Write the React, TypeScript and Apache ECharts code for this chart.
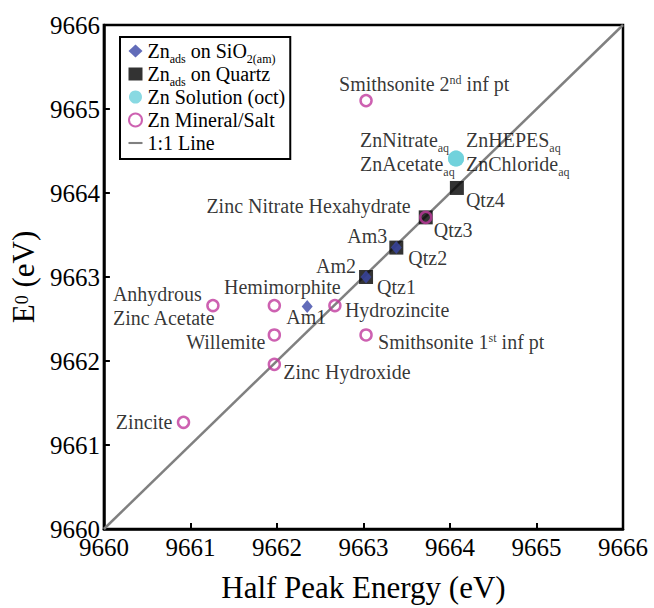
import React, { useEffect, useRef } from "react";
import * as echarts from "echarts";

const FONT = "Liberation Serif";

// Axis range / ticks
const axisMin = 9660;
const axisMax = 9666;
const tickStep = 1;

// Zn adsorbed on SiO2(am)
const amNames = ["Am1", "Am2", "Am3"];
const amX = [9662.35, 9663.03, 9663.38];
const amY = [9662.65, 9663.0, 9663.35];

// Zn adsorbed on Quartz
const qtzNames = ["Qtz1", "Qtz2", "Qtz3", "Qtz4"];
const qtzX = [9663.03, 9663.38, 9663.72, 9664.08];
const qtzY = [9663.0, 9663.35, 9663.71, 9664.06];

// Zn solution (oct) – one point, two label blocks
const solNames = ["solLeft", "solRight"];
const solX = [9664.07, 9664.07];
const solY = [9664.41, 9664.41];

// Zn minerals / salts
const minNames = [
  "Smithsonite 2nd inf pt",
  "Zinc Nitrate Hexahydrate",
  "Hemimorphite",
  "Hydrozincite",
  "Anhydrous Zinc Acetate",
  "Willemite",
  "Smithsonite 1st inf pt",
  "Zinc Hydroxide",
  "Zincite",
];
const minX = [9663.03, 9663.72, 9661.97, 9662.67, 9661.26, 9661.97, 9663.03, 9661.97, 9660.92];
const minY = [9665.1, 9663.71, 9662.66, 9662.66, 9662.66, 9662.31, 9662.31, 9661.96, 9661.27];

// 1:1 line
const lineX = [9660, 9666];
const lineY = [9660, 9666];

// Label texts (rich)
const labelText: Record<string, string> = {
  "Smithsonite 2nd inf pt": "{n|Smithsonite 2}{sup|nd}{n| inf pt}",
  "Smithsonite 1st inf pt": "{n|Smithsonite 1}{sup|st}{n| inf pt}",
  "Anhydrous Zinc Acetate": "{n|Anhydrous}\n{n|Zinc Acetate}",
  solLeft: "{n|ZnNitrate}{sub|aq}\n{n|ZnAcetate}{sub|aq}",
  solRight: "{n|ZnHEPES}{sub|aq}\n{n|ZnChloride}{sub|aq}",
};

// Label placement relative to marker centre (px)
const labelPlace: Record<string, [number, number, string]> = {
  Am1: [-1, 11, "center"],
  Am2: [-10, -11, "right"],
  Am3: [-9, -12, "right"],
  Qtz1: [11, 10, "left"],
  Qtz2: [12, 10, "left"],
  Qtz3: [8, 13, "left"],
  Qtz4: [9, 12, "left"],
  solLeft: [-96, -7, "left"],
  solRight: [10, -7, "left"],
  "Smithsonite 2nd inf pt": [-27, -17, "left"],
  "Zinc Nitrate Hexahydrate": [-15, -11, "right"],
  Hemimorphite: [8, -19, "center"],
  Hydrozincite: [10, 4, "left"],
  "Anhydrous Zinc Acetate": [-100, 0, "left"],
  Willemite: [-9, 7, "right"],
  "Smithsonite 1st inf pt": [12, 7, "left"],
  "Zinc Hydroxide": [9, 8, "left"],
  Zincite: [-11, 0, "right"],
};

const rich = {
  n: { fontSize: 20, lineHeight: 24, fontFamily: FONT, color: "#000" },
  sub: { fontSize: 12, lineHeight: 12, padding: [16, 0, 0, 0], fontFamily: FONT, color: "#000" },
  sup: { fontSize: 12, lineHeight: 12, padding: [0, 0, 8, 0], fontFamily: FONT, color: "#000" },
};

const legendNames = ["sio2", "quartz", "solution", "mineral", "line"];
const legendText: Record<string, string> = {
  sio2: "{t|Zn}{s|ads}{t| on SiO}{s|2(am)}",
  quartz: "{t|Zn}{s|ads}{t| on Quartz}",
  solution: "{t|Zn Solution (oct)}",
  mineral: "{t|Zn Mineral/Salt}",
  line: "{t|1:1 Line}",
};
const legendRich = {
  t: { fontSize: 20, lineHeight: 28, fontFamily: FONT, color: "#000" },
  s: { fontSize: 12, lineHeight: 12, padding: [16, 0, 0, 0], fontFamily: FONT, color: "#000" },
};

function items(names: string[], xs: number[], ys: number[]) {
  return names.map((name, i) => {
    const p = labelPlace[name] || [8, 0, "left"];
    return {
      name,
      value: [xs[i], ys[i]],
      label: {
        show: true,
        position: ["50%", "50%"],
        offset: [p[0], p[1]],
        align: p[2],
        verticalAlign: "middle",
        formatter: labelText[name] ?? `{n|${name}}`,
        rich,
      },
    };
  });
}

export default function App() {
  const ref = useRef<HTMLDivElement>(null);
  useEffect(() => {
    document.body.style.margin = "0";
    const chart = echarts.init(ref.current!, null, { renderer: "svg" });
    const axisCommon = {
      type: "value",
      min: axisMin,
      max: axisMax,
      interval: tickStep,
      nameLocation: "middle",
      axisLine: { show: true, lineStyle: { color: "#000", width: 2.5 } },
      axisTick: { show: true, inside: true, length: 6, lineStyle: { color: "#000", width: 2 } },
      splitLine: { show: false },
    };
    const tickLabel = {
      fontFamily: FONT,
      fontSize: 25,
      color: "#000",
      formatter: (v: number) => String(v),
    };
    chart.setOption({
      animation: false,
      backgroundColor: "#fff",
      textStyle: { fontFamily: FONT, color: "#000" },
      grid: {
        left: 101,
        right: 31,
        top: 25,
        bottom: 77,
        show: true,
        borderColor: "#000",
        borderWidth: 2.5,
        backgroundColor: "transparent",
      },
      legend: {
        orient: "vertical",
        left: 120,
        top: 37,
        padding: [0, 5, 2, 8],
        itemGap: -5,
        itemWidth: 14,
        itemHeight: 13,
        borderColor: "#000",
        borderWidth: 2,
        backgroundColor: "#fff",
        data: legendNames.map((n) =>
          n === "line" ? { name: n, icon: "path://M0,0L20,0L20,3L0,3Z" } : { name: n }
        ),
        formatter: (n: string) => legendText[n],
        textStyle: { fontFamily: FONT, fontSize: 20, lineHeight: 28, color: "#000", rich: legendRich },
      },
      xAxis: {
        ...axisCommon,
        name: "Half Peak Energy (eV)",
        nameGap: 43,
        nameTextStyle: { fontFamily: FONT, fontSize: 31, color: "#000" },
        axisLabel: { ...tickLabel, margin: 6 },
      },
      yAxis: {
        ...axisCommon,
        name: "{n|E}{sub|0}{n| (eV)}",
        nameGap: 54,
        nameTextStyle: {
          fontFamily: FONT,
          fontSize: 31,
          color: "#000",
          rich: {
            n: { fontSize: 31, lineHeight: 34, fontFamily: FONT, color: "#000" },
            sub: { fontSize: 18, lineHeight: 18, padding: [0, 0, 4, 0], fontFamily: FONT, color: "#000" },
          },
        },
        axisLabel: { ...tickLabel, margin: 4 },
      },
      series: [
        {
          name: "line",
          type: "line",
          data: lineX.map((x, i) => [x, lineY[i]]),
          symbol: "none",
          color: "#808080",
          lineStyle: { color: "#808080", width: 2.5 },
          z: 1,
        },
        {
          name: "quartz",
          type: "scatter",
          symbol: "rect",
          symbolSize: 14,
          itemStyle: { color: "#000" },
          data: items(qtzNames, qtzX, qtzY),
          z: 2,
        },
        {
          name: "mineral",
          type: "scatter",
          symbol: "circle",
          symbolSize: 11,
          itemStyle: { color: "rgba(255,255,255,0)", borderColor: "#C0399E", borderWidth: 2.5 },
          data: items(minNames, minX, minY),
          z: 3,
        },
        {
          name: "sio2",
          type: "scatter",
          symbol: "diamond",
          symbolSize: [11, 13],
          itemStyle: { color: "#3B47A8" },
          data: items(amNames, amX, amY),
          z: 4,
        },
        {
          name: "solution",
          type: "scatter",
          symbol: "circle",
          symbolSize: 16,
          itemStyle: { color: "#6CCFDB" },
          data: items(solNames, solX, solY),
          z: 5,
        },
      ],
    });
    return () => chart.dispose();
  }, []);
  return <div ref={ref} style={{ width: 654, height: 608 }} />;
}
